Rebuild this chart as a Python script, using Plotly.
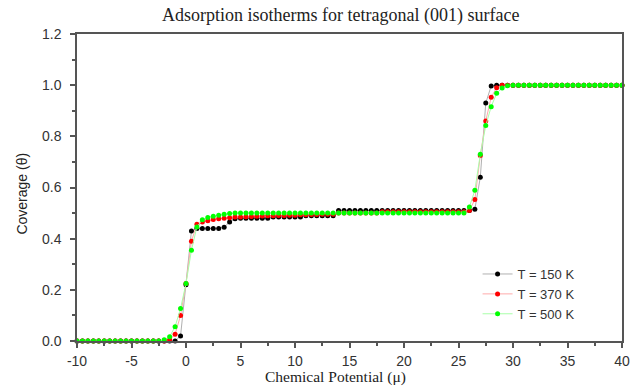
import plotly.graph_objects as go

# Chemical potential grid (step 0.5 from -10 to 40)
mu = [-10 + 0.5 * i for i in range(101)]

cov_150 = [
    0, 0, 0, 0, 0, 0, 0, 0, 0, 0,
    0, 0, 0, 0, 0, 0, 0, 0, 0, 0.02,
    0.22, 0.43, 0.44, 0.44, 0.44, 0.44, 0.44, 0.445, 0.465, 0.478,
    0.48, 0.48, 0.48, 0.48, 0.48, 0.48, 0.485, 0.485, 0.485, 0.485,
    0.485, 0.485, 0.49, 0.49, 0.49, 0.49, 0.49, 0.49, 0.51, 0.51,
    0.51, 0.51, 0.51, 0.51, 0.51, 0.51, 0.51, 0.51, 0.51, 0.51,
    0.51, 0.51, 0.51, 0.51, 0.51, 0.51, 0.51, 0.51, 0.51, 0.51,
    0.51, 0.51, 0.51, 0.515, 0.64, 0.93, 0.997, 1, 1, 1,
    1, 1, 1, 1, 1, 1, 1, 1, 1, 1,
    1, 1, 1, 1, 1, 1, 1, 1, 1, 1,
    1,
]

cov_370 = [
    0, 0, 0, 0, 0, 0, 0, 0, 0, 0,
    0, 0, 0, 0, 0, 0, 0, 0.005, 0.026, 0.10,
    0.225, 0.39, 0.456, 0.465, 0.47, 0.475, 0.478, 0.48, 0.482, 0.485,
    0.485, 0.486, 0.487, 0.488, 0.489, 0.49, 0.49, 0.491, 0.491, 0.492,
    0.492, 0.493, 0.493, 0.494, 0.494, 0.495, 0.495, 0.495, 0.5, 0.5,
    0.5, 0.5, 0.5, 0.5, 0.5, 0.5, 0.505, 0.505, 0.505, 0.505,
    0.505, 0.505, 0.505, 0.505, 0.505, 0.505, 0.505, 0.505, 0.505, 0.505,
    0.505, 0.505, 0.51, 0.553, 0.725, 0.86, 0.953, 0.99, 1, 1,
    1, 1, 1, 1, 1, 1, 1, 1, 1, 1,
    1, 1, 1, 1, 1, 1, 1, 1, 1, 1,
    1,
]

cov_500 = [
    0, 0, 0, 0, 0, 0, 0, 0, 0, 0,
    0, 0, 0, 0, 0, 0, 0.005, 0.017, 0.056, 0.127,
    0.225, 0.355, 0.446, 0.474, 0.483, 0.488, 0.492, 0.495, 0.498, 0.5,
    0.5, 0.5, 0.5, 0.5, 0.5, 0.5, 0.5, 0.5, 0.5, 0.5,
    0.5, 0.5, 0.5, 0.5, 0.5, 0.5, 0.5, 0.5, 0.5, 0.5,
    0.5, 0.5, 0.5, 0.5, 0.5, 0.5, 0.5, 0.5, 0.5, 0.5,
    0.5, 0.5, 0.5, 0.5, 0.5, 0.5, 0.5, 0.5, 0.5, 0.5,
    0.5, 0.5, 0.524, 0.589, 0.73, 0.842, 0.916, 0.968, 0.989, 0.998,
    1, 1, 1, 1, 1, 1, 1, 1, 1, 1,
    1, 1, 1, 1, 1, 1, 1, 1, 1, 1,
    1,
]

series_names = ["T = 150 K", "T = 370 K", "T = 500 K"]
series_values = [cov_150, cov_370, cov_500]
marker_colors = ["#000000", "#ff0000", "#00ff00"]
line_colors = ["#b0b0b0", "#ffaaaa", "#a8ffa8"]

x_ticks = [-10, -5, 0, 5, 10, 15, 20, 25, 30, 35, 40]
y_ticks = [0.0, 0.2, 0.4, 0.6, 0.8, 1.0, 1.2]

fig = go.Figure()
for name, vals, mc, lc in zip(series_names, series_values, marker_colors, line_colors):
    fig.add_trace(go.Scatter(
        x=mu, y=vals, name=name, mode="lines+markers",
        line=dict(color=lc, width=1),
        marker=dict(color=mc, size=5, symbol="circle"),
        cliponaxis=False,
    ))

axis_common = dict(
    showline=True, linecolor="#555555", linewidth=1.5, mirror=True,
    ticks="outside", ticklen=5, tickwidth=1.5, tickcolor="#555555",
    showgrid=False, zeroline=False, automargin=False,
    tickfont=dict(family="Liberation Sans, Arial", size=14, color="#333333"),
)

serif = "Liberation Serif, Times New Roman"
sans = "Liberation Sans, Arial"

fig.update_layout(
    width=632, height=388, autosize=False,
    margin=dict(l=77, r=10, t=34, b=47, autoexpand=False),
    paper_bgcolor="white", plot_bgcolor="white",
    title=dict(
        text="Adsorption isotherms for tetragonal (001) surface",
        xref="paper", x=0.484, xanchor="center",
        yref="container", y=0.962, yanchor="middle",
        font=dict(family=serif, size=18, color="#222222"),
    ),
    xaxis=dict(
        range=[-10, 40], tickvals=x_ticks,
        ticktext=[str(v) for v in x_ticks],
        minor=dict(ticks="outside", ticklen=3, tickwidth=1.5, tickcolor="#555555", dtick=2.5),
        ticklabelstandoff=1,
        **axis_common,
    ),
    yaxis=dict(
        range=[0, 1.2], tickvals=y_ticks,
        ticktext=["%.1f" % v for v in y_ticks],
        minor=dict(ticks="outside", ticklen=3, tickwidth=1.5, tickcolor="#555555", dtick=0.1),
        ticklabelstandoff=6,
        **axis_common,
    ),
    annotations=[
        dict(text="Chemical Potential (\u03bc)", xref="paper", yref="paper",
             x=0.475, y=-0.117, xanchor="center", yanchor="middle", showarrow=False,
             font=dict(family=serif, size=15.5, color="#222222")),
        dict(text="Coverage (\u03b8)", xref="paper", yref="paper",
             x=-0.101, y=0.48, xanchor="center", yanchor="middle", showarrow=False,
             textangle=-90, font=dict(family=sans, size=14, color="#222222")),
    ],
    legend=dict(
        x=0.735, y=0.153, xanchor="left", yanchor="middle",
        bgcolor="rgba(0,0,0,0)", borderwidth=0,
        font=dict(family=sans, size=13, color="#333333"),
        tracegroupgap=0, itemsizing="trace",
    ),
    showlegend=True,
)

fig.write_html("out.html", config={"displayModeBar": False},
               post_script="document.body.style.margin='0';")
